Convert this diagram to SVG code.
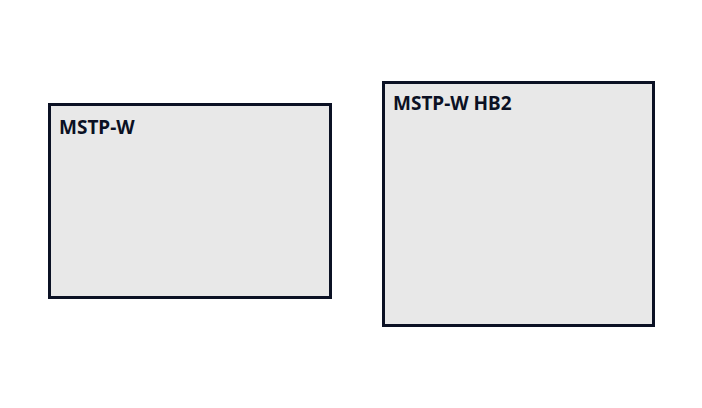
<svg xmlns="http://www.w3.org/2000/svg" width="702" height="408" viewBox="0 0 702 408">
<style>
.box{fill:#e8e8e8;stroke:#0b1124;stroke-width:3}
.lbl{font-family:"Noto Sans","Open Sans",sans-serif;font-weight:bold;font-size:19px;fill:#0b1124}
</style>
<rect width="702" height="408" fill="#ffffff"/>
<g id="node-mstp-w">
<rect class="box" x="49.5" y="104.5" width="281" height="193"/>
<text class="lbl" x="59" y="134">MSTP-W</text>
</g>
<g id="node-mstp-w-hb2">
<rect class="box" x="383.5" y="82.5" width="270" height="243"/>
<text class="lbl" x="393" y="110">MSTP-W HB2</text>
</g>
<g id="connectors"></g>
</svg>
